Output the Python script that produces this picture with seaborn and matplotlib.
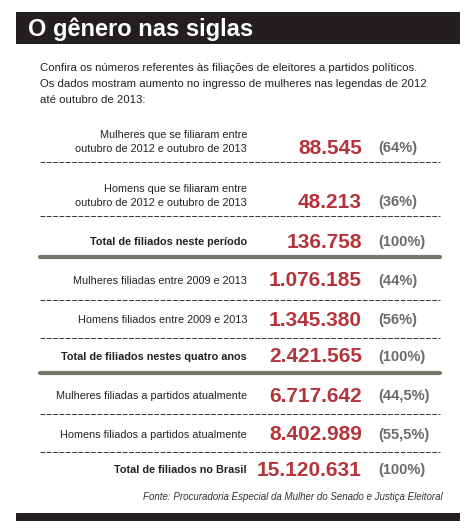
import matplotlib
matplotlib.use("Agg")
import matplotlib.pyplot as plt
import seaborn as sns

sns.set_theme(style="white")
plt.rcParams["font.family"] = ["Liberation Sans Narrow", "Liberation Sans", "DejaVu Sans"]

title = "O gênero nas siglas"
intro = ["Confira os números referentes às filiações de eleitores a partidos políticos.",
         "Os dados mostram aumento no ingresso de mulheres nas legendas de 2012",
         "até outubro de 2013:"]
labels = ["Mulheres que se filiaram entre\noutubro de 2012 e outubro de 2013",
          "Homens que se filiaram entre\noutubro de 2012 e outubro de 2013",
          "Total de filiados neste período",
          "Mulheres filiadas entre 2009 e 2013",
          "Homens filiados entre 2009 e 2013",
          "Total de filiados nestes quatro anos",
          "Mulheres filiadas a partidos atualmente",
          "Homens filiados a partidos atualmente",
          "Total de filiados no Brasil"]
values = ["88.545", "48.213", "136.758", "1.076.185", "1.345.380", "2.421.565",
          "6.717.642", "8.402.989", "15.120.631"]
percents = ["(64%)", "(36%)", "(100%)", "(44%)", "(56%)", "(100%)",
            "(44,5%)", "(55,5%)", "(100%)"]
is_total = [False, False, True, False, False, True, False, False, True]
source = "Fonte: Procuradoria Especial da Mulher do Senado e Justiça Eleitoral"

row_y = [142, 196, 242, 281, 320, 357, 396, 435, 470]
line_y = [162, 216, 257, 300, 338, 373, 414, 452, None]

RED = "#b5343a"
GREY = "#6a6a6a"

fig = plt.figure(figsize=(4.69, 5.31), dpi=100)
ax = fig.add_axes([0, 0, 1, 1])
ax.set_xlim(0, 469)
ax.set_ylim(531, 0)
ax.axis("off")

ax.fill_between([16, 460], 12, 44, color="#231f20", lw=0)
ax.text(28, 29, title, color="white", fontsize=17, fontweight="bold", va="center")
for i, line in enumerate(intro):
    ax.text(40, 68 + i * 16, line, fontsize=8.2, color="#222222", va="center")

for lab, val, pct, tot, y, ly in zip(labels, values, percents, is_total, row_y, line_y):
    ax.text(247, y, lab, ha="right", va="center", fontsize=7.8, color="#222222",
            fontweight="bold" if tot else "normal", linespacing=1.5)
    vy = y + 6 if "\n" in lab else y
    ax.text(362, vy, val, ha="right", va="center", fontsize=15, color=RED, fontweight="bold")
    ax.text(378, vy, pct, ha="left", va="center", fontsize=10.5, color=GREY, fontweight="bold")
    if ly is not None:
        if tot:
            ax.plot([40, 440], [ly, ly], color="#76766a", lw=3)
        else:
            ax.plot([40, 440], [ly, ly], color="#333333", lw=0.7, ls=(0, (5, 1.5)))

ax.text(443, 497, source, ha="right", va="center", fontsize=7, style="italic", color="#333333")
ax.fill_between([16, 460], 513, 521, color="#231f20", lw=0)

fig.savefig("out.png", dpi=100)
